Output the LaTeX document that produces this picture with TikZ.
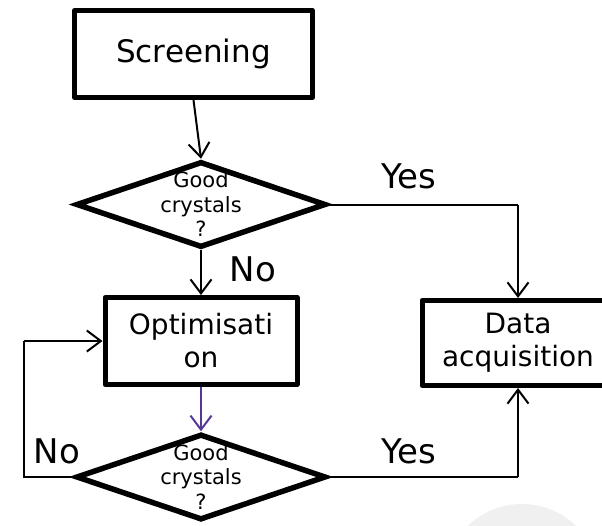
\documentclass[tikz,border=0pt]{standalone}
\usepackage{fontspec}
\setmainfont{DejaVu Sans}
\usetikzlibrary{shapes.geometric,arrows.meta,calc}
\definecolor{arrowpurple}{RGB}{85,55,150}
\begin{document}
\begin{tikzpicture}[x=1pt,y=-1pt,
  box/.style={draw,line width=5pt,line join=round,rectangle,inner sep=0pt,align=center},
  dia/.style={draw,line width=5.5pt,diamond,inner sep=0pt,minimum width=250pt,minimum height=86pt},
  dtext/.style={align=center,inner sep=0pt,font=\fontsize{21}{24.5}\selectfont},
  conn/.style={line width=2pt,-{Straight Barb[length=14pt,width=21pt,line width=2pt]}},
  plain/.style={line width=2pt},
  lab/.style={anchor=base,inner sep=0pt,font=\fontsize{34}{40}\selectfont}]
\useasboundingbox (0,0) rectangle (602,525);
\clip (0,0) rectangle (602,525);
\fill[black!6] (522,582) circle (78pt);
% boxes
\node[box,minimum width=238pt,minimum height=87pt,font=\fontsize{31}{36}\selectfont] (scr) at (193.5,54) {Screening};
\node[box,minimum width=192pt,minimum height=87pt,font=\fontsize{28}{33}\selectfont] (opt) at (201,341) {Optimisati\\on};
\node[box,minimum width=192pt,minimum height=85pt,font=\fontsize{28}{33}\selectfont] (dat) at (518,343) {Data\\acquisition};
% diamonds
\node[dia] (d1) at (201,204.5) {};
\node[dtext] (t1) at (d1) {Good\\crystals\\?};
\node[dia] (d2) at (201,477) {};
\node[dtext] (t2) at (d2) {Good\\crystals\\?};
% corner coordinates
\coordinate (c1) at (d1.east -| dat.north);
\coordinate (c2) at (d2.east -| dat.south);
\coordinate (c3) at (24,477);
\coordinate (c4) at (24,341);
% connectors
\draw[conn] (scr.south) -- (d1.north);
\draw[conn] (d1.south) -- (opt.north);
\draw[plain] (d1.east) -- (c1);
\draw[conn] (c1) -- (dat.north);
\draw[conn,draw=arrowpurple] (opt.south) -- (d2.north);
\draw[plain] (d2.east) -- (c2);
\draw[conn] (c2) -- (dat.south);
\draw[plain] (d2.west) -- (c3) -- (c4);
\draw[conn] (c4) -- (opt.west);
% labels
\node[lab] (yes1) at (409,188) {Yes};
\node[lab] (no1) at (253,281) {No};
\node[lab] (yes2) at (409,463) {Yes};
\node[lab] (no2) at (57,463) {No};
\end{tikzpicture}
\end{document}
